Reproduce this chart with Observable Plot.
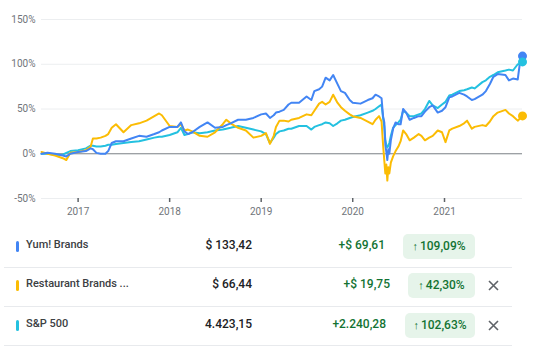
<!DOCTYPE html>
<html>
<head>
<meta charset="utf-8">
<script src="https://cdn.jsdelivr.net/npm/d3@7"></script>
<script src="https://cdn.jsdelivr.net/npm/@observablehq/plot@0.6"></script>
<style>
  html, body { margin: 0; padding: 0; background: #fff; }
  body { font-family: Roboto, "Open Sans", sans-serif; }
  #wrap { position: relative; width: 550px; height: 351px; overflow: hidden; }
  #chart { position: absolute; left: 0; top: 0; }
  .sep { position: absolute; left: 4px; width: 508px; height: 1px; background: #e8eaed; }
  .bar { position: absolute; left: 16px; width: 3px; height: 11px; border-radius: 1.5px; }
  .name { position: absolute; left: 26px; font-size: 11px; color: #3c4043; font-weight: 500; white-space: nowrap; }
  .price { position: absolute; right: 298px; font-size: 12px; color: #202124; font-weight: 500; white-space: nowrap; }
  .chg { position: absolute; font-size: 12px; color: #137333; font-weight: 500; white-space: nowrap; }
  .badge { position: absolute; background: #e6f4ea; border-radius: 5px; height: 25px; color: #137333; font-size: 12px; font-weight: 500; display: flex; align-items: center; justify-content: center; white-space: nowrap; }
  .badge .arr { margin-right: 2px; font-size: 11px; }
  .close { position: absolute; left: 488px; width: 11px; height: 11px; }
</style>
</head>
<body>
<div id="wrap">
  <div id="chart"></div>
  <div id="legend"></div>
</div>
<script>
// ---- data ----
const dates = [
  "2016-08-08","2016-09-01","2016-10-01","2016-11-01","2016-11-15","2016-12-01",
  "2017-01-01","2017-02-01","2017-02-20","2017-03-01","2017-03-15","2017-04-01","2017-04-20","2017-05-01","2017-05-15","2017-06-01","2017-07-01","2017-08-01","2017-09-01","2017-10-01","2017-11-01","2017-11-20","2017-12-01",
  "2018-01-01","2018-02-01","2018-02-15","2018-03-01","2018-03-15","2018-04-01","2018-05-01","2018-06-01","2018-07-01","2018-08-01","2018-08-15","2018-09-01","2018-10-01","2018-11-01","2018-12-01",
  "2019-01-01","2019-01-20","2019-02-05","2019-02-20","2019-03-01","2019-03-15","2019-04-01","2019-04-20","2019-05-01","2019-06-01","2019-07-01","2019-07-20","2019-08-01","2019-08-20","2019-09-01","2019-09-15","2019-10-01","2019-10-15","2019-11-01","2019-11-15","2019-12-01","2019-12-20",
  "2020-01-01","2020-02-01","2020-03-01","2020-03-20","2020-04-01","2020-04-15","2020-04-25","2020-05-01","2020-05-06","2020-05-10","2020-05-14","2020-05-18","2020-05-22","2020-05-26","2020-06-01","2020-06-10","2020-06-20","2020-07-01","2020-07-10","2020-07-20","2020-08-01","2020-08-15","2020-09-01","2020-09-20","2020-10-01","2020-10-15","2020-11-01","2020-11-15","2020-12-05","2020-12-22",
  "2021-01-05","2021-01-20","2021-02-01","2021-03-01","2021-03-20","2021-04-01","2021-04-20","2021-05-01","2021-06-01","2021-06-15","2021-07-01","2021-07-15","2021-08-01","2021-09-01","2021-09-15","2021-10-01","2021-10-20","2021-10-28","2021-11-08"
];

const yumValues = [
  0, 1, 0, -2, -3, 0,
  2, 3, 6, 5, 1, 0, 0, 3, 12, 14, 14, 17, 20, 19, 22, 24, 26,
  30, 30, 35, 25, 22, 24, 30, 35, 29, 30, 32, 34, 38, 38, 40,
  44, 45, 40, 43, 46, 47, 49, 55, 57, 57, 64, 60, 70, 72, 75, 85, 82, 88, 78, 70, 68, 60,
  57, 56, 60, 62, 66, 64, 62, 42, 35, 10, 2, -7, 5, 0, 15, 28, 35, 33, 33, 50, 46, 38, 40, 42, 42, 47, 52, 54, 46, 48,
  52, 63, 64, 68, 66, 64, 60, 61, 66, 70, 78, 86, 89, 88, 82, 84, 83, 100, 109.09
];

const rbiValues = [
  2, 0, -2, -5, -7, 1,
  2, 4, 8, 17, 17, 18, 20, 22, 29, 33, 24, 32, 34, 37, 42, 45, 43,
  31, 30, 33, 26, 27, 25, 20, 19, 24, 33, 38, 34, 29, 26, 18,
  20, 23, 11, 20, 30, 37, 37, 36, 38, 40, 44, 43, 48, 56, 58, 55, 58, 66, 57, 52, 48, 44,
  42, 40, 36, 33, 38, 42, 36, 10, -8, -22, -12, -30, -15, -22, -10, -3, 3, 8, 14, 26, 22, 15, 18, 22, 20, 15, 18, 20, 26, 24,
  13, 26, 28, 31, 34, 37, 28, 30, 32, 31, 36, 42, 46, 49, 45, 42, 37, 39, 42.30
];

const spxValues = [
  0, 0, -1, -1, 1, 3,
  4, 6, 9, 9, 8, 8, 9, 10, 10, 11, 12, 13, 14, 16, 18, 19, 19,
  21, 24, 29, 21, 22, 24, 23, 24, 26, 27, 28, 29, 31, 29, 27,
  25, 22, 12, 18, 22, 25, 26, 28, 28, 31, 31, 27, 30, 32, 33, 35, 34, 31, 34, 37, 38, 40,
  41, 43, 46, 48, 50, 53, 55, 40, 30, 15, 10, 7, 9, 12, 20, 29, 32, 35, 38, 48, 46, 42, 42, 44, 45, 50, 59, 54, 51, 55,
  58, 65, 66, 70, 71, 72, 74, 73, 80, 82, 86, 88, 91, 93, 94, 93, 100, 100, 102.63
];

const seriesNames = ["Yum! Brands", "Restaurant Brands ...", "S&P 500"];
const seriesColors = ["#4285f4", "#fbbc04", "#24c1e0"];
const prices = ["$ 133,42", "$ 66,44", "4.423,15"];
const changes = ["+$ 69,61", "+$ 19,75", "+2.240,28"];
const percents = ["109,09%", "42,30%", "102,63%"];
const removable = [false, true, true];
const yTicks = [-50, 0, 50, 100, 150];
const xTickYears = [2017, 2018, 2019, 2020, 2021];

// ---- build table ----
const valueSets = [yumValues, rbiValues, spxValues];
const rows = [];
valueSets.forEach((vals, s) => {
  dates.forEach((d, i) => rows.push({date: new Date(d + "T00:00:00Z"), value: vals[i], name: seriesNames[s]}));
});
const lastRows = seriesNames.map((n, s) => ({
  date: new Date(dates[dates.length - 1] + "T00:00:00Z"),
  value: valueSets[s][valueSets[s].length - 1],
  name: n
}));
const drawOrder = [2, 1, 0];
const orderedRows = drawOrder.flatMap(s => rows.filter(r => r.name === seriesNames[s]));

const chart = Plot.plot({
  width: 550,
  height: 222,
  marginLeft: 41,
  marginRight: 28,
  marginTop: 19,
  marginBottom: 24,
  style: {fontFamily: "Roboto, sans-serif", fontSize: "10px", color: "#70757a", background: "white", overflow: "visible"},
  x: {type: "utc", domain: [new Date("2016-08-08T00:00:00Z"), new Date("2021-11-08T00:00:00Z")]},
  y: {domain: [-50, 150]},
  color: {domain: seriesNames, range: seriesColors},
  marks: [
    Plot.gridY(yTicks, {stroke: "#eceef0", strokeOpacity: 1}),
    Plot.axisY(yTicks, {tickSize: 0, tickPadding: 6, tickFormat: d => d + "%", fill: "#70757a", fontSize: 10, label: null}),
    Plot.axisX(xTickYears.map(y => new Date(Date.UTC(y, 0, 1))), {
      tickSize: 4, tickPadding: 5, tickFormat: d3.utcFormat("%Y"), stroke: "#5f6368", strokeWidth: 1.5,
      fill: "#70757a", fontSize: 10, label: null
    }),
    Plot.ruleY([0], {stroke: "#80868b", strokeWidth: 1}),
    Plot.lineY(orderedRows, {x: "date", y: "value", stroke: "name", z: "name", strokeWidth: 2, curve: "linear"}),
    Plot.dot(lastRows, {x: "date", y: "value", fill: "name", r: 4.5})
  ]
});
document.getElementById("chart").appendChild(chart);

// ---- legend table ----
const legend = document.getElementById("legend");
const rowCenters = [246, 285, 325];
const sepYs = [267, 306, 345];
const chgRight = [385, 390, 386];
const badgeLeft = [403, 408, 405];
rowCenters.forEach((cy, i) => {
  const bar = document.createElement("div");
  bar.className = "bar";
  bar.style.top = (cy - 5.5) + "px";
  bar.style.background = seriesColors[i];
  legend.appendChild(bar);

  const nm = document.createElement("div");
  nm.className = "name";
  nm.textContent = seriesNames[i];
  nm.style.top = (cy - 8) + "px";
  legend.appendChild(nm);

  const pr = document.createElement("div");
  pr.className = "price";
  pr.textContent = prices[i];
  pr.style.top = (cy - 8.5) + "px";
  legend.appendChild(pr);

  const ch = document.createElement("div");
  ch.className = "chg";
  ch.textContent = changes[i];
  ch.style.top = (cy - 8.5) + "px";
  ch.style.right = (550 - chgRight[i]) + "px";
  legend.appendChild(ch);

  const bd = document.createElement("div");
  bd.className = "badge";
  const arr = document.createElement("span");
  arr.className = "arr";
  arr.textContent = "\u2191";
  bd.appendChild(arr);
  bd.appendChild(document.createTextNode(percents[i]));
  bd.style.top = (cy - 12.5) + "px";
  bd.style.left = badgeLeft[i] + "px";
  bd.style.width = (475 - badgeLeft[i]) + "px";
  legend.appendChild(bd);

  if (removable[i]) {
    const ns = "http://www.w3.org/2000/svg";
    const x = document.createElementNS(ns, "svg");
    x.setAttribute("class", "close");
    x.setAttribute("viewBox", "0 0 11 11");
    x.style.top = (cy - 5.5) + "px";
    x.innerHTML = '<path d="M1 1L10 10M10 1L1 10" stroke="#5f6368" stroke-width="1.6" fill="none"/>';
    legend.appendChild(x);
  }

  const sp = document.createElement("div");
  sp.className = "sep";
  sp.style.top = sepYs[i] + "px";
  legend.appendChild(sp);
});
</script>
</body>
</html>
